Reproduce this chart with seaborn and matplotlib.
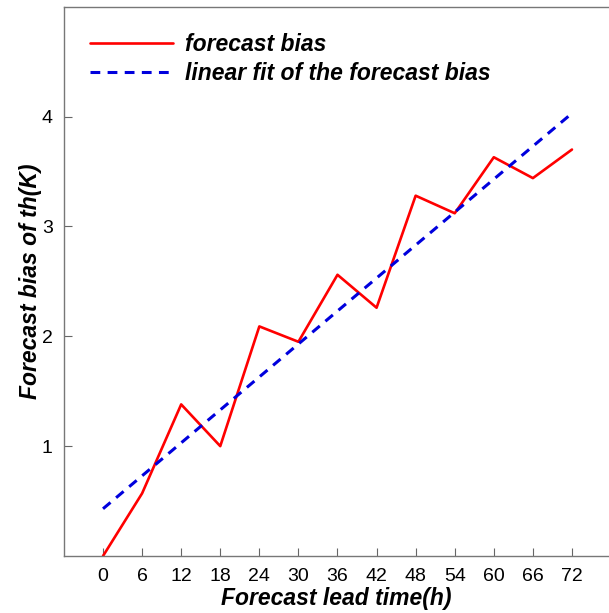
import numpy as np
import pandas as pd
import matplotlib
matplotlib.use("Agg")
import matplotlib.pyplot as plt
import seaborn as sns

lead_time = [0, 6, 12, 18, 24, 30, 36, 42, 48, 54, 60, 66, 72]
bias = [0.0, 0.57, 1.38, 1.0, 2.09, 1.95, 2.56, 2.26, 3.28, 3.12, 3.63, 3.44, 3.70]
fit_time = [0, 72]
fit_values = [0.43, 4.03]
y_ticks = [1, 2, 3, 4]

sns.set_theme(style="white")
plt.rcParams['font.family'] = ['Liberation Sans', 'DejaVu Sans']
plt.rcParams['text.color'] = 'black'
plt.rcParams['axes.labelcolor'] = 'black'

fig = plt.figure(figsize=(6.09, 6.13), dpi=100)
ax = fig.add_axes([0.105, 0.093, 0.893, 0.896])

df = pd.DataFrame({"t": lead_time, "b": bias})
dfit = pd.DataFrame({"t": fit_time, "b": fit_values})

sns.lineplot(data=df, x="t", y="b", ax=ax, color="#ff0000", linewidth=1.9,
             label="forecast bias")
sns.lineplot(data=dfit, x="t", y="b", ax=ax, color="#0000dd", linewidth=2.2,
             linestyle=(0, (3.2, 2.4)), label="linear fit of the forecast bias")

ax.set_xlim(-6, 77.5)
ax.set_ylim(0, 5)
ax.set_xticks(lead_time)
ax.set_yticks(y_ticks)
ax.tick_params(bottom=True, left=True, direction="in", length=6, width=0.8,
               colors="#666666", labelcolor="black", labelsize=14)
ax.tick_params(axis="x", pad=9)
ax.tick_params(axis="y", pad=8)
for side in ["left", "bottom", "top"]:
    ax.spines[side].set_color("#777777")
    ax.spines[side].set_linewidth(1.0)
ax.spines["right"].set_visible(False)

ax.set_xlabel("Forecast lead time(h)", fontsize=16.5, fontweight="bold",
              fontstyle="italic", labelpad=1)
ax.set_ylabel("Forecast bias of th(K)", fontsize=16.5, fontweight="bold",
              fontstyle="italic", labelpad=0)

leg = ax.legend(loc="upper left", frameon=False, handlelength=3.6,
                prop={"size": 16.5, "weight": "bold", "style": "italic"},
                bbox_to_anchor=(0.01, 0.99), labelspacing=0.25, handletextpad=0.55)
for t in leg.get_texts():
    t.set_color("black")

fig.savefig("out.png", dpi=100)
